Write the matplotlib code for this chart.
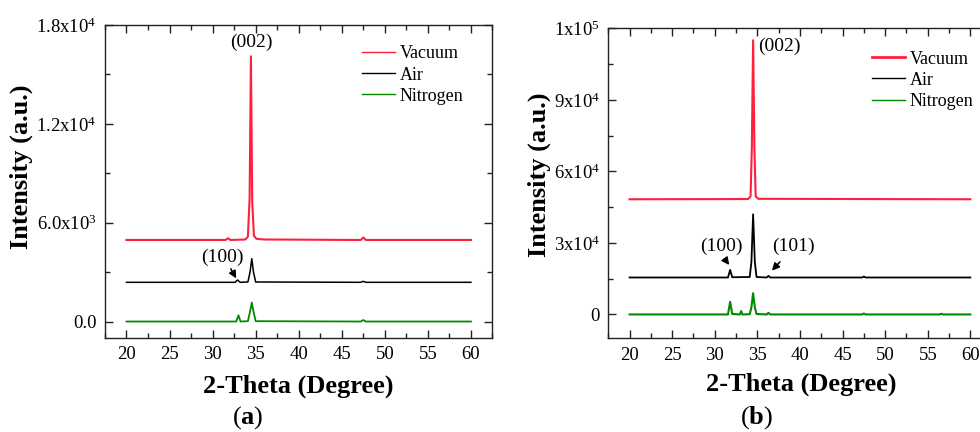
import matplotlib
matplotlib.use("Agg")
import matplotlib.pyplot as plt
from matplotlib.ticker import MultipleLocator, FixedLocator

plt.rcParams['font.family'] = ['Liberation Serif', 'DejaVu Serif']
plt.rcParams['mathtext.fontset'] = 'custom'
plt.rcParams['mathtext.rm'] = 'Liberation Serif'
plt.rcParams['mathtext.it'] = 'Liberation Serif:italic'
plt.rcParams['mathtext.bf'] = 'Liberation Serif:bold'

RED = '#ff1f3d'
GREEN = '#008a00'

# ---- (a) XRD patterns, offset stacked ----
vac_a_x = [20, 31.5, 31.8, 32.1, 33.8, 34.1, 34.3, 34.45, 34.6, 34.8, 35.1, 36.0, 47.2, 47.5, 47.8, 60]
vac_a_y = [4950, 4950, 5050, 4950, 4980, 5150, 7500, 16100, 7300, 5200, 5020, 4980, 4950, 5100, 4950, 4950]
air_a_x = [20, 32.6, 32.9, 33.2, 34.1, 34.35, 34.55, 34.75, 35.0, 47.2, 47.5, 47.8, 60]
air_a_y = [2380, 2380, 2520, 2380, 2400, 3000, 3815, 3000, 2400, 2380, 2440, 2380, 2380]
nit_a_x = [20, 32.75, 33.0, 33.25, 34.1, 34.35, 34.55, 34.75, 35.0, 47.2, 47.5, 47.8, 60]
nit_a_y = [0, 0, 380, 0, 20, 600, 1150, 600, 20, 0, 90, 0, 0]
yticks_a = [0, 6000, 12000, 18000]
ylabels_a = ['0.0', r'6.0x10$^{3}$', r'1.2x10$^{4}$', r'1.8x10$^{4}$']

# ---- (b) XRD patterns ----
vac_b_x = [20, 33.9, 34.2, 34.35, 34.5, 34.65, 34.8, 35.1, 60]
vac_b_y = [48300, 48400, 49500, 70000, 115000, 70000, 49500, 48500, 48300]
air_b_x = [20, 31.55, 31.8, 32.05, 34.1, 34.3, 34.5, 34.7, 34.9, 36.1, 36.3, 36.5, 47.3, 47.5, 47.7, 60]
air_b_y = [15500, 15500, 18700, 15600, 15700, 22000, 42000, 22000, 15700, 15500, 16200, 15500, 15500, 15900, 15500, 15500]
nit_b_x = [20, 31.55, 31.8, 32.05, 32.95, 33.1, 33.25, 34.1, 34.3, 34.5, 34.7, 34.9, 36.1, 36.3, 36.5,
           47.3, 47.5, 47.7, 56.4, 56.6, 56.8, 60]
nit_b_y = [0, 0, 5300, 200, 0, 1400, 0, 100, 3000, 8900, 3000, 200, 0, 700, 0,
           0, 400, 0, 0, 300, 0, 0]
yticks_b = [0, 30000, 60000, 90000, 120000]
ylabels_b = ['0', r'3x10$^{4}$', r'6x10$^{4}$', r'9x10$^{4}$', r'1x10$^{5}$']

xticks = [20, 25, 30, 35, 40, 45, 50, 55, 60]

fig = plt.figure(figsize=(9.8, 4.32), dpi=100)
ax1 = fig.add_axes([0.1071, 0.2176, 0.3954, 0.7245])
ax2 = fig.add_axes([0.6207, 0.2169, 0.3912, 0.7176])


def style(ax, yticks, ylabels, minor_y, ylim):
    ax.set_xlim(17.5, 62.5)
    ax.set_ylim(*ylim)
    ax.xaxis.set_major_locator(FixedLocator(xticks))
    ax.xaxis.set_minor_locator(MultipleLocator(2.5))
    ax.set_xticklabels([str(t) for t in xticks])
    ax.yaxis.set_major_locator(FixedLocator(yticks))
    ax.yaxis.set_minor_locator(MultipleLocator(minor_y))
    ax.set_yticklabels(ylabels)
    ax.tick_params(which='both', direction='in', top=True, right=True,
                   labelsize=13.5, width=1.0, color='#222222')
    ax.tick_params(which='major', length=6, pad=6)
    ax.tick_params(which='minor', length=3.5)
    for sp in ax.spines.values():
        sp.set_linewidth(1.0)
        sp.set_color('#222222')
    ax.set_xlabel('2-Theta (Degree)', fontsize=19, fontweight='bold')
    ax.set_ylabel('Intensity (a.u.)', fontsize=19, fontweight='bold')


style(ax1, yticks_a, ylabels_a, 3000, (-1000, 18000))
style(ax2, yticks_b, ylabels_b, 15000, (-10000, 120000))

ax1.plot(vac_a_x, vac_a_y, color=RED, lw=1.5, label='Vacuum')
ax1.plot(air_a_x, air_a_y, color='black', lw=1.1, label='Air')
ax1.plot(nit_a_x, nit_a_y, color=GREEN, lw=1.3, label='Nitrogen')

ax2.plot(vac_b_x, vac_b_y, color=RED, lw=1.5, label='Vacuum')
ax2.plot(air_b_x, air_b_y, color='black', lw=1.3, label='Air')
ax2.plot(nit_b_x, nit_b_y, color=GREEN, lw=1.5, label='Nitrogen')

ax1.xaxis.set_label_coords(0.50, -0.118)
ax1.yaxis.set_label_coords(-0.186, 0.548)
ax2.xaxis.set_label_coords(0.503, -0.112)
ax2.yaxis.set_label_coords(-0.149, 0.527)

leg_kw = dict(loc='upper left', frameon=False, fontsize=13, handlelength=1.85,
              handletextpad=0.25, labelspacing=0.23, borderpad=0, borderaxespad=0)
leg1 = ax1.legend(bbox_to_anchor=(0.663, 0.935), **leg_kw)
for h in leg1.get_lines():
    h.set_linewidth(1.0)
leg2 = ax2.legend(bbox_to_anchor=(0.687, 0.928), **leg_kw)
for h, w in zip(leg2.get_lines(), [2.0, 1.0, 1.0]):
    h.set_linewidth(w)

arrow = dict(arrowstyle='-|>', color='black', lw=1.1, mutation_scale=11)

# peak labels (a)
ax1.text(34.5, 16970, '(002)', fontsize=14, ha='center', va='center')
ax1.text(31.15, 3890, '(100)', fontsize=14, ha='center', va='center')
ax1.annotate('', xy=(32.9, 2470), xytext=(31.95, 3350), arrowprops=arrow)

# peak labels (b)
ax2.text(35.09, 112500, '(002)', fontsize=14, ha='left', va='center')
ax2.text(30.75, 28440, '(100)', fontsize=14, ha='center', va='center')
ax2.annotate('', xy=(31.89, 19800), xytext=(31.02, 24000), arrowprops=arrow)
ax2.text(39.19, 28440, '(101)', fontsize=14, ha='center', va='center')
ax2.annotate('', xy=(36.49, 17500), xytext=(37.87, 22940), arrowprops=arrow)

fig.text(248 / 980, 1 - 418 / 432, '(' + r'$\mathbf{a}$' + ')', fontsize=19, ha='center', va='center')
fig.text(757 / 980, 1 - 418 / 432, '(' + r'$\mathbf{b}$' + ')', fontsize=19, ha='center', va='center')

fig.savefig('out.png', dpi=100)
